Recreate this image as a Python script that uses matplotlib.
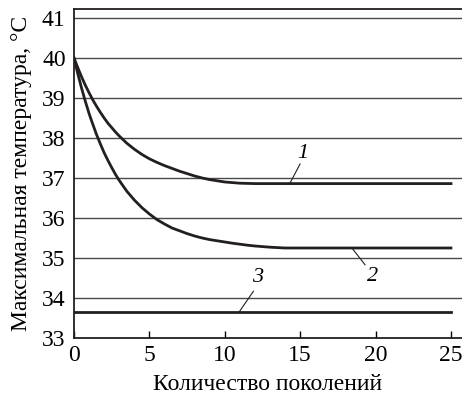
import matplotlib.pyplot as plt

plt.rcParams['font.family'] = ['Liberation Serif', 'DejaVu Serif']

# Значения
x = [0, 0.25, 0.5, 0.75, 1, 1.25, 1.5, 1.75, 2, 2.25, 2.5, 2.75, 3, 3.5, 4, 4.5, 5, 5.5,
     6, 6.5, 7, 7.5, 8, 8.5, 9, 9.5, 10, 10.5, 11, 11.5, 12, 12.5, 13, 13.5, 14, 25]
curve1 = [40.0, 39.76, 39.53, 39.32, 39.13, 38.95, 38.79, 38.64, 38.50, 38.37, 38.26, 38.15,
          38.05, 37.87, 37.72, 37.59, 37.48, 37.39, 37.31, 37.24, 37.17, 37.11, 37.05, 37.00,
          36.96, 36.93, 36.90, 36.885, 36.87, 36.865, 36.86, 36.86, 36.86, 36.86, 36.86, 36.86]
curve2 = [40.0, 39.61, 39.25, 38.92, 38.61, 38.34, 38.08, 37.85, 37.63, 37.44, 37.26, 37.09,
          36.94, 36.67, 36.45, 36.26, 36.10, 35.96, 35.85, 35.75, 35.68, 35.61, 35.55, 35.50,
          35.46, 35.43, 35.40, 35.37, 35.345, 35.32, 35.30, 35.285, 35.27, 35.26, 35.25, 35.25]
x3 = [0, 25]
curve3 = [33.65, 33.65]

xticks = [0, 5, 10, 15, 20, 25]
yticks = [33, 34, 35, 36, 37, 38, 39, 40, 41]

W, H = 462, 405
fig = plt.figure(figsize=(W / 100, H / 100), dpi=100)
ax = fig.add_axes([74 / W, (H - 338) / H, (W - 74) / W, (338 - 9) / H])

for yv in yticks[1:]:
    ax.axhline(yv, color='#4a4a4a', lw=1.0, zorder=1)

col = '#231f20'
for yy in (curve1, curve2):
    ax.plot(x, yy, color=col, lw=2.0, zorder=3, solid_joinstyle='round')
ax.plot(x3, curve3, color=col, lw=2.0, zorder=3)

# выноски с номерами кривых
ax.plot([14.32, 14.99], [36.87, 37.35], color=col, lw=0.8)
ax.text(15.2, 37.62, '1', fontsize=16, style='italic', ha='center', va='center')
ax.plot([18.43, 19.3], [35.25, 34.83], color=col, lw=0.8)
ax.text(19.8, 34.55, '2', fontsize=16, style='italic', ha='center', va='center')
ax.plot([10.95, 11.9], [33.65, 34.17], color=col, lw=0.8)
ax.text(12.2, 34.5, '3', fontsize=16, style='italic', ha='center', va='center')

ax.set_xlim(0, (W - 74) / 15.08)
ax.set_ylim(33, 41.225)
ax.set_xticks(xticks)
ax.set_yticks(yticks)
ax.tick_params(axis='x', direction='in', length=5, width=1, pad=5, labelsize=17)
ax.tick_params(axis='y', length=0, pad=6, labelsize=17)
ax.spines['right'].set_visible(False)
for s in ['left', 'bottom', 'top']:
    ax.spines[s].set_linewidth(1.3)
    ax.spines[s].set_color(col)

ax.set_xlabel('Количество поколений', fontsize=17, labelpad=6)
ax.set_ylabel('Максимальная температура, °C', fontsize=17, labelpad=7)

fig.savefig('out.png', dpi=100)
